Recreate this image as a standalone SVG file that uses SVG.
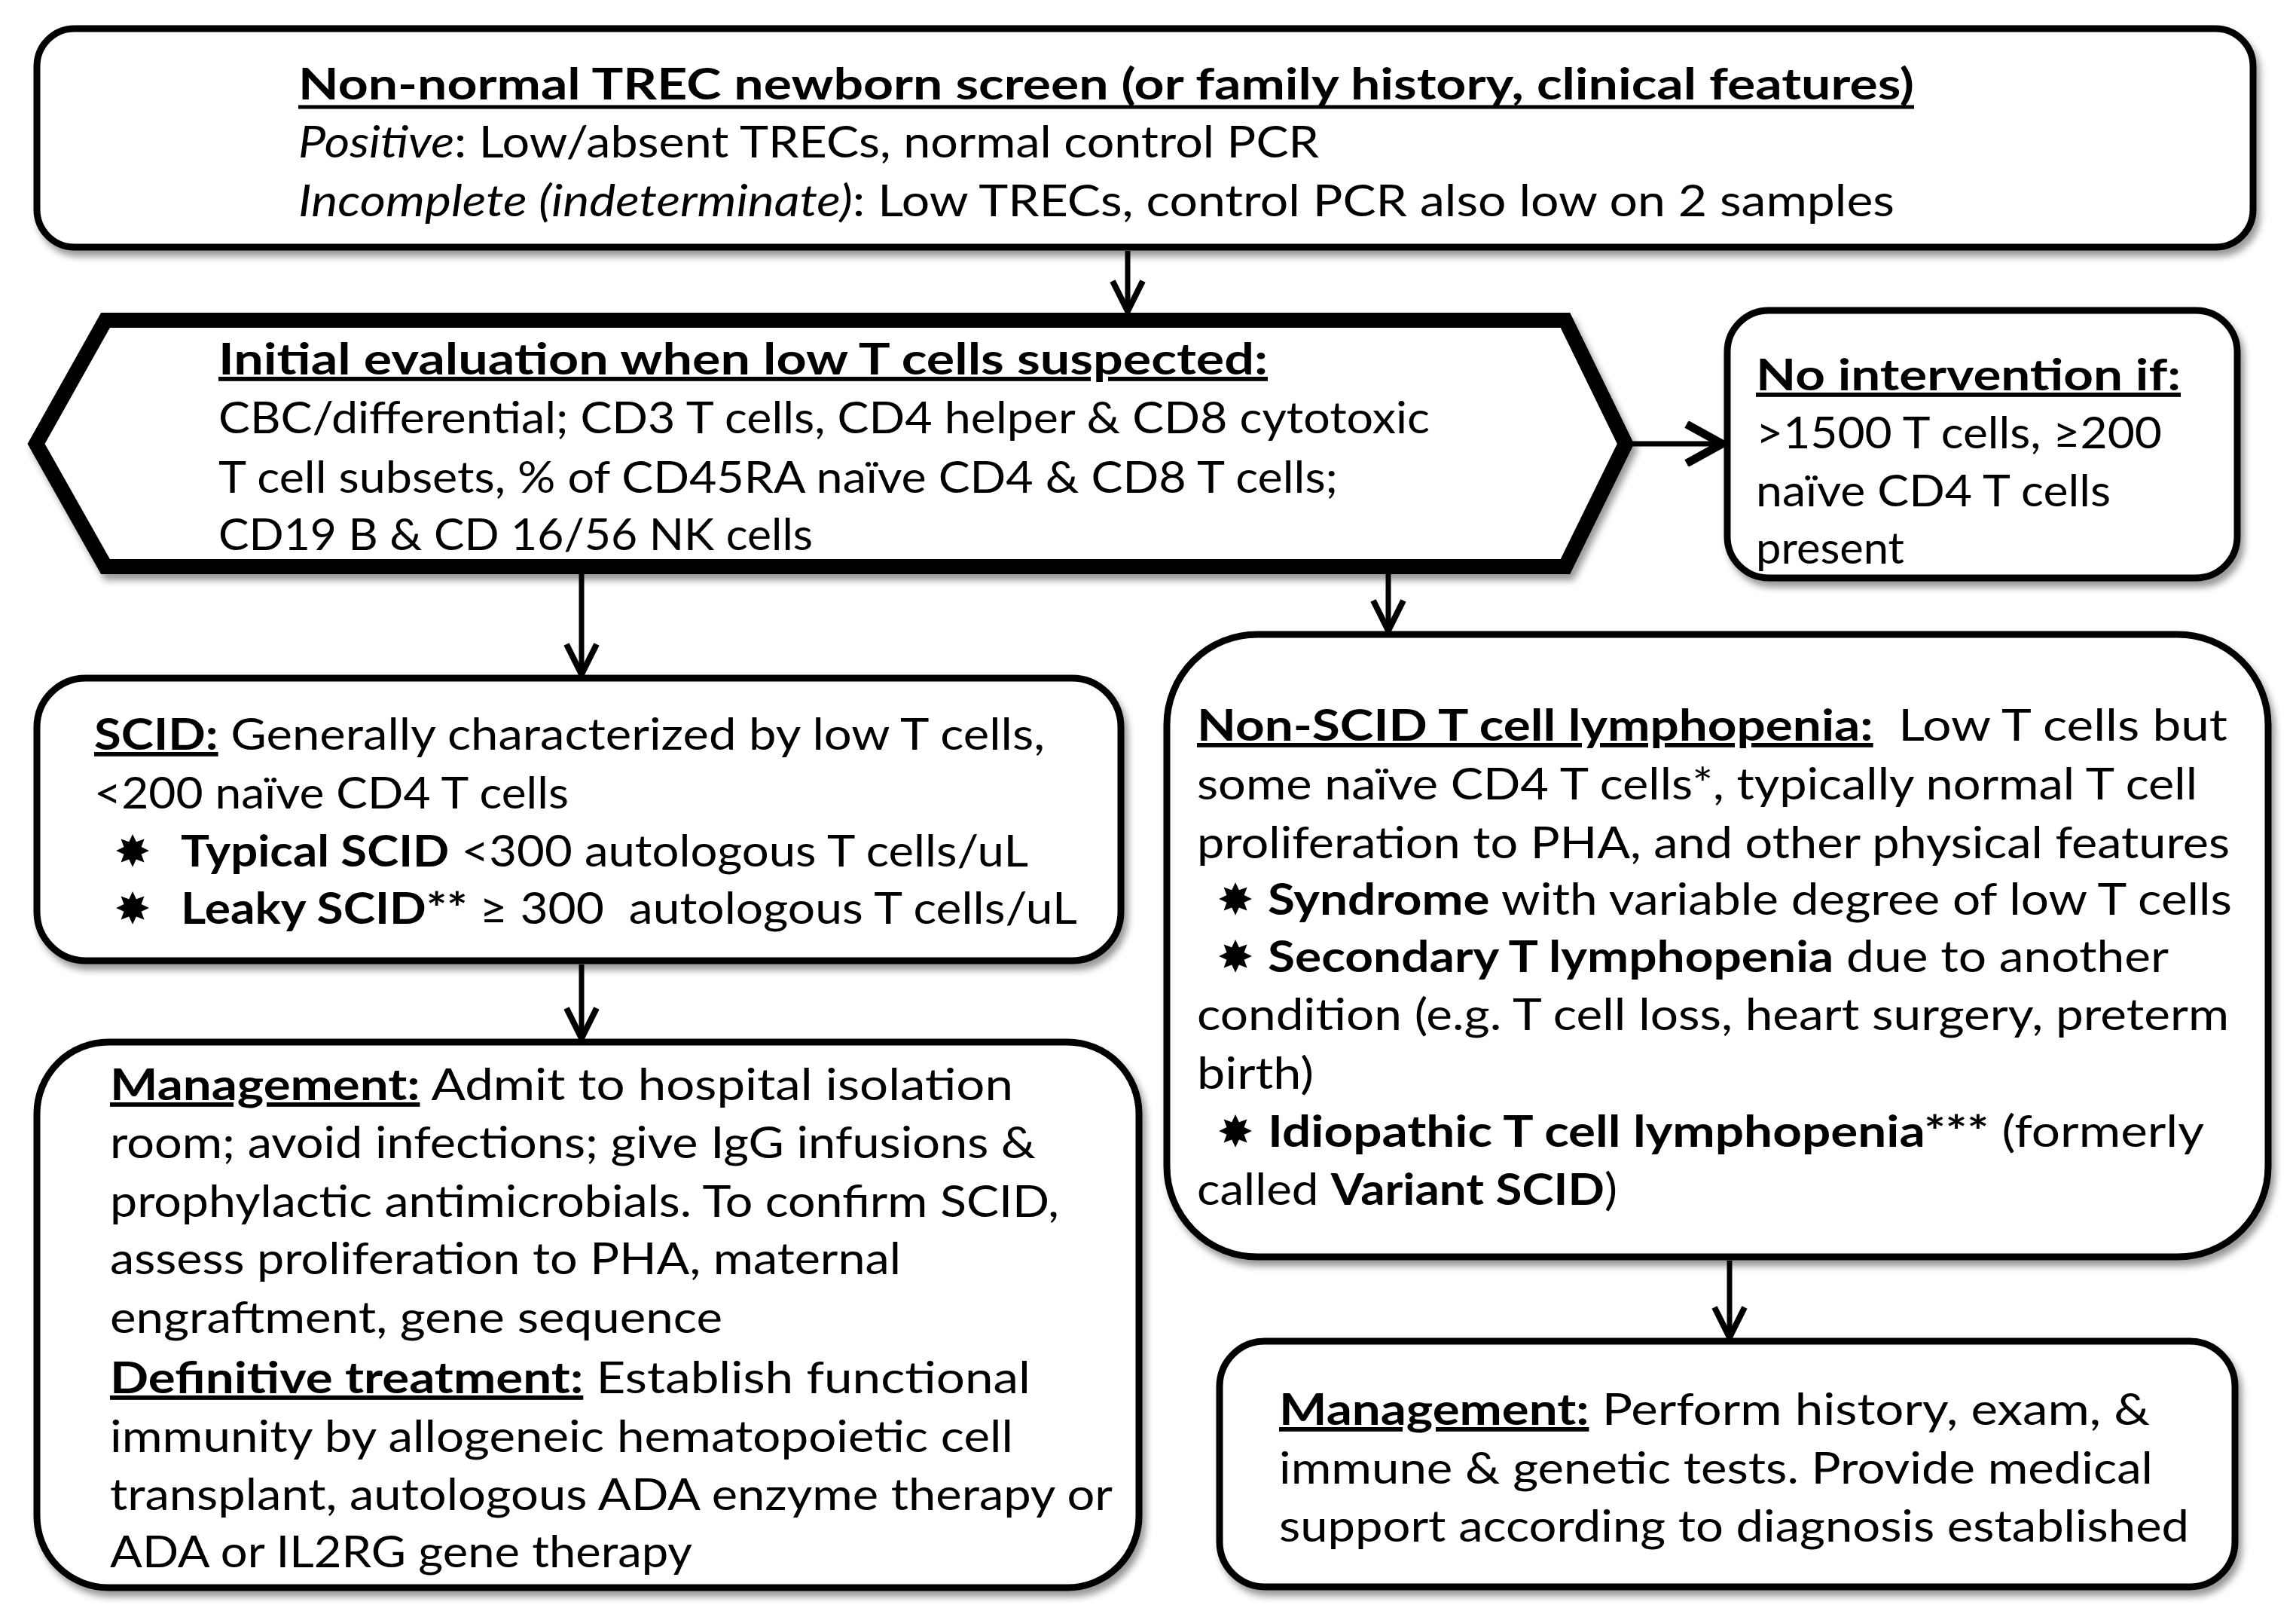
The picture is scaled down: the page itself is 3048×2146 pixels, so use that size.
<svg xmlns="http://www.w3.org/2000/svg" width="3048" height="2146" viewBox="0 0 3048 2146">
<defs>
<style>
.t{font-family:Lato,"Open Sans","Liberation Sans",sans-serif;font-size:58px;fill:#000}
.b{font-weight:bold}
.i{font-style:italic}
.u{text-decoration:underline;text-decoration-skip-ink:none}
.star{font-family:"DejaVu Sans",sans-serif;font-size:58px;fill:#000}
.box{fill:#fff;stroke:#000;stroke-width:9}
.hex{fill:#fff;stroke:#000;stroke-width:20;stroke-linejoin:miter;stroke-miterlimit:10}
.con{fill:none;stroke:#000;stroke-width:7}
.ul{stroke:#000;stroke-width:5}
</style>
<filter id="sh" x="-5%" y="-5%" width="110%" height="115%">
<feDropShadow dx="5" dy="8" stdDeviation="5" flood-color="#000" flood-opacity="0.4"/>
</filter>
<marker id="arr" viewBox="0 0 50 50" markerWidth="50" markerHeight="50" refX="45" refY="25" orient="auto" markerUnits="userSpaceOnUse">
<path d="M5,5 L45,25 L5,45" fill="none" stroke="#000" stroke-width="8"/>
</marker>
<marker id="arrB" viewBox="0 0 60 60" markerWidth="60" markerHeight="60" refX="53" refY="30" orient="auto" markerUnits="userSpaceOnUse">
<path d="M6,4 L53,30 L6,56" fill="none" stroke="#000" stroke-width="11"/>
</marker>
</defs>
<rect width="3048" height="2146" fill="#fff"/>

<g id="screen">
<rect class="box" x="49" y="38" width="2942" height="290" rx="50" filter="url(#sh)"/>
<text class="t" x="396" y="132" textLength="2145" lengthAdjust="spacingAndGlyphs"><tspan class="b">Non-normal TREC newborn screen (or family history, clinical features)</tspan></text>
<line class="ul" x1="396" y1="142" x2="2541" y2="142"/>
<text class="t" x="396" y="209" textLength="1355" lengthAdjust="spacingAndGlyphs"><tspan class="i">Positive</tspan>: Low/absent TRECs, normal control PCR</text>
<text class="t" x="396" y="287" textLength="2119" lengthAdjust="spacingAndGlyphs"><tspan class="i">Incomplete (indeterminate)</tspan>: Low TRECs, control PCR also low on 2 samples</text>
</g>

<g id="initial">
<polygon class="hex" points="140,425 2078,425 2158,589 2078,752 140,752 48,589" filter="url(#sh)"/>
<text class="t" x="290" y="497" textLength="1393" lengthAdjust="spacingAndGlyphs"><tspan class="b u">Initial evaluation when low T cells suspected:</tspan></text>
<text class="t" x="290" y="575" textLength="1608" lengthAdjust="spacingAndGlyphs">CBC/differential; CD3 T cells, CD4 helper &amp; CD8 cytotoxic</text>
<text class="t" x="290" y="654" textLength="1486" lengthAdjust="spacingAndGlyphs">T cell subsets, % of CD45RA naïve CD4 &amp; CD8 T cells;</text>
<text class="t" x="290" y="730" textLength="789" lengthAdjust="spacingAndGlyphs">CD19 B &amp; CD 16/56 NK cells</text>
</g>

<g id="nointervention">
<rect class="box" x="2293" y="412" width="677" height="355" rx="55" filter="url(#sh)"/>
<text class="t" x="2331" y="518" textLength="564" lengthAdjust="spacingAndGlyphs"><tspan class="b u">No intervention if:</tspan></text>
<text class="t" x="2331" y="595" textLength="539" lengthAdjust="spacingAndGlyphs">&gt;1500 T cells, ≥200</text>
<text class="t" x="2331" y="672" textLength="471" lengthAdjust="spacingAndGlyphs">naïve CD4 T cells</text>
<text class="t" x="2331" y="748" textLength="197" lengthAdjust="spacingAndGlyphs">present</text>
</g>

<g id="scid">
<rect class="box" x="49" y="900" width="1439" height="375" rx="65" filter="url(#sh)"/>
<text class="t" x="125" y="995" textLength="1262" lengthAdjust="spacingAndGlyphs"><tspan class="b u">SCID:</tspan> Generally characterized by low T cells,</text>
<text class="t" x="125" y="1073" textLength="630" lengthAdjust="spacingAndGlyphs">&lt;200 naïve CD4 T cells</text>
<text class="star" x="176" y="1150" text-anchor="middle">✸</text>
<text class="t" x="240" y="1150" textLength="1125" lengthAdjust="spacingAndGlyphs"><tspan class="b">Typical SCID</tspan> &lt;300 autologous T cells/uL</text>
<text class="star" x="176" y="1226" text-anchor="middle">✸</text>
<text class="t" x="240" y="1226" textLength="1190" lengthAdjust="spacingAndGlyphs" xml:space="preserve"><tspan class="b">Leaky SCID**</tspan> ≥ 300  autologous T cells/uL</text>
</g>

<g id="management-scid">
<rect class="box" x="49" y="1383" width="1463" height="724" rx="95" filter="url(#sh)"/>
<text class="t" x="146" y="1460" textLength="1199" lengthAdjust="spacingAndGlyphs"><tspan class="b u">Management:</tspan> Admit to hospital isolation</text>
<text class="t" x="146" y="1537" textLength="1229" lengthAdjust="spacingAndGlyphs">room; avoid infections; give IgG infusions &amp;</text>
<text class="t" x="146" y="1615" textLength="1260" lengthAdjust="spacingAndGlyphs">prophylactic antimicrobials. To confirm SCID,</text>
<text class="t" x="146" y="1691" textLength="1050" lengthAdjust="spacingAndGlyphs">assess proliferation to PHA, maternal</text>
<text class="t" x="146" y="1769" textLength="813" lengthAdjust="spacingAndGlyphs">engraftment, gene sequence</text>
<text class="t" x="146" y="1849" textLength="1222" lengthAdjust="spacingAndGlyphs"><tspan class="b u">Definitive treatment:</tspan> Establish functional</text>
<text class="t" x="146" y="1927" textLength="1199" lengthAdjust="spacingAndGlyphs">immunity by allogeneic hematopoietic cell</text>
<text class="t" x="146" y="2004" textLength="1331" lengthAdjust="spacingAndGlyphs">transplant, autologous ADA enzyme therapy or</text>
<text class="t" x="146" y="2080" textLength="773" lengthAdjust="spacingAndGlyphs">ADA or IL2RG gene therapy</text>
</g>

<g id="nonscid">
<rect class="box" x="1549" y="842" width="1462" height="826" rx="120" filter="url(#sh)"/>
<text class="t" x="1589" y="983" textLength="1368" lengthAdjust="spacingAndGlyphs"><tspan class="b u">Non-SCID T cell lymphopenia:</tspan><tspan dx="14"> Low T cells but</tspan></text>
<text class="t" x="1589" y="1061" textLength="1328" lengthAdjust="spacingAndGlyphs">some naïve CD4 T cells*, typically normal T cell</text>
<text class="t" x="1589" y="1139" textLength="1371" lengthAdjust="spacingAndGlyphs">proliferation to PHA, and other physical features</text>
<text class="star" x="1640" y="1214" text-anchor="middle">✸</text>
<text class="t" x="1683" y="1214" textLength="1280" lengthAdjust="spacingAndGlyphs"><tspan class="b">Syndrome</tspan> with variable degree of low T cells</text>
<text class="star" x="1640" y="1290" text-anchor="middle">✸</text>
<text class="t" x="1683" y="1290" textLength="1196" lengthAdjust="spacingAndGlyphs"><tspan class="b">Secondary T lymphopenia</tspan> due to another</text>
<text class="t" x="1589" y="1367" textLength="1370" lengthAdjust="spacingAndGlyphs">condition (e.g. T cell loss, heart surgery, preterm</text>
<text class="t" x="1589" y="1445" textLength="155" lengthAdjust="spacingAndGlyphs">birth)</text>
<text class="star" x="1640" y="1522" text-anchor="middle">✸</text>
<text class="t" x="1683" y="1522" textLength="1243" lengthAdjust="spacingAndGlyphs"><tspan class="b">Idiopathic T cell lymphopenia***</tspan> (formerly</text>
<text class="t" x="1589" y="1599" textLength="558" lengthAdjust="spacingAndGlyphs">called <tspan class="b">Variant SCID</tspan>)</text>
</g>

<g id="management-nonscid">
<rect class="box" x="1619" y="1780" width="1348" height="326" rx="60" filter="url(#sh)"/>
<text class="t" x="1698" y="1891" textLength="1156" lengthAdjust="spacingAndGlyphs"><tspan class="b u">Management:</tspan> Perform history, exam, &amp;</text>
<text class="t" x="1698" y="1969" textLength="1160" lengthAdjust="spacingAndGlyphs">immune &amp; genetic tests. Provide medical</text>
<text class="t" x="1698" y="2046" textLength="1208" lengthAdjust="spacingAndGlyphs">support according to diagnosis established</text>
</g>

<g id="connectors">
<line class="con" x1="1497" y1="333" x2="1497" y2="413" marker-end="url(#arr)"/>
<line class="con" x1="2166" y1="589" x2="2286" y2="589" stroke-width="13" marker-end="url(#arrB)"/>
<line class="con" x1="772" y1="762" x2="772" y2="895" stroke-width="9" marker-end="url(#arr)"/>
<line class="con" x1="1843" y1="762" x2="1843" y2="837" stroke-width="9" marker-end="url(#arr)"/>
<line class="con" x1="772" y1="1280" x2="772" y2="1378" stroke-width="9" marker-end="url(#arr)"/>
<line class="con" x1="2296" y1="1673" x2="2296" y2="1775" stroke-width="8" marker-end="url(#arr)"/>
</g>
</svg>
